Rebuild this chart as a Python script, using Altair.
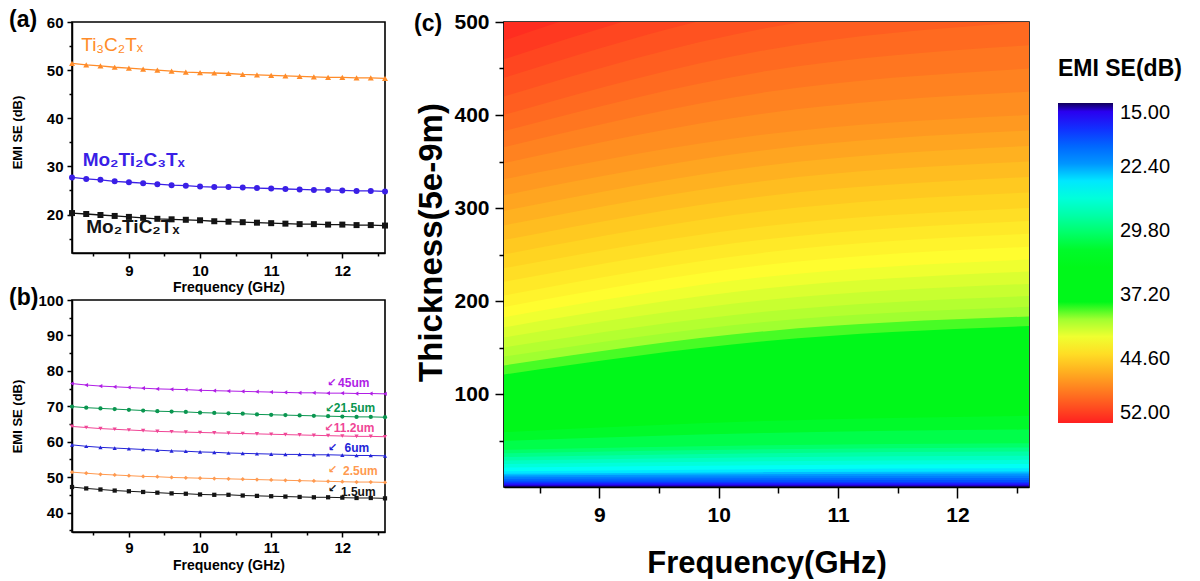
import altair as alt
import pandas as pd

FONT = "Liberation Sans"

# ---------------- data ----------------
FREQ = [8.2, 8.4, 8.6, 8.8, 9.0, 9.2, 9.4, 9.6, 9.8, 10.0, 10.2, 10.4,
        10.6, 10.8, 11.0, 11.2, 11.4, 11.6, 11.8, 12.0, 12.2, 12.4, 12.6]

# panel (a)
A_SERIES = ["Ti₃C₂Tₓ", "Mo₂Ti₂C₃Tₓ", "Mo₂TiC₂Tₓ"]
A_TI3C2TX = [51.4, 51.1, 50.9, 50.6, 50.4, 50.2, 50.0, 49.8, 49.6, 49.5, 49.4, 49.3,
             49.1, 49.0, 48.9, 48.8, 48.7, 48.6, 48.5, 48.5, 48.4, 48.4, 48.3]
A_MO2TI2C3TX = [27.7, 27.4, 27.2, 26.9, 26.7, 26.5, 26.3, 26.1, 26.0, 25.8, 25.7, 25.7,
                25.6, 25.5, 25.4, 25.3, 25.2, 25.1, 25.1, 25.0, 24.9, 24.9, 24.8]
A_MO2TIC2TX = [20.3, 20.1, 19.9, 19.7, 19.5, 19.3, 19.1, 19.0, 18.9, 18.8, 18.6, 18.5,
               18.4, 18.3, 18.2, 18.1, 18.0, 18.0, 17.9, 17.9, 17.8, 17.8, 17.7]
A_LABEL_F = [8.33, 8.35, 8.40]
A_LABEL_SE = [55.2, 31.4, 17.3]

# panel (b)
B_SERIES = ["45um", "21.5um", "11.2um", "6um", "2.5um", "1.5um"]
B_45UM = [76.4, 76.0, 75.7, 75.5, 75.3, 75.1, 74.9, 74.8, 74.7, 74.5, 74.4, 74.3,
          74.2, 74.1, 74.0, 73.9, 73.8, 73.8, 73.7, 73.7, 73.6, 73.6, 73.5]
B_21_5UM = [69.9, 69.6, 69.4, 69.2, 69.0, 68.8, 68.6, 68.5, 68.4, 68.2, 68.1, 68.0,
            67.9, 67.7, 67.6, 67.5, 67.4, 67.3, 67.2, 67.1, 67.0, 67.0, 66.9]
B_11_2UM = [64.3, 64.0, 63.7, 63.5, 63.3, 63.1, 62.9, 62.8, 62.7, 62.6, 62.5, 62.4,
            62.3, 62.2, 62.1, 62.0, 61.9, 61.8, 61.7, 61.6, 61.5, 61.5, 61.4]
B_6UM = [59.1, 58.7, 58.4, 58.2, 58.0, 57.8, 57.6, 57.4, 57.3, 57.1, 57.0, 56.8,
         56.7, 56.6, 56.5, 56.4, 56.4, 56.3, 56.3, 56.2, 56.1, 56.1, 56.0]
B_2_5UM = [51.4, 51.1, 50.8, 50.6, 50.4, 50.2, 50.1, 49.9, 49.8, 49.7, 49.6, 49.5,
           49.4, 49.3, 49.2, 49.1, 49.0, 48.9, 48.8, 48.7, 48.6, 48.6, 48.5]
B_1_5UM = [47.2, 46.8, 46.5, 46.2, 46.0, 45.8, 45.6, 45.4, 45.3, 45.1, 45.0, 45.0,
           44.8, 44.7, 44.6, 44.5, 44.4, 44.3, 44.3, 44.2, 44.1, 44.1, 44.0]
B_LABEL_F = [11.94, 11.88, 11.88, 12.03, 12.01, 11.98]
B_LABEL_SE = [76.7, 69.5, 63.9, 58.3, 51.8, 45.8]
B_ARROW_F = [11.85, 11.82, 11.81, 11.86, 11.86, 11.86]
B_ARROW_SE = [76.7, 69.3, 63.9, 58.3, 52.0, 46.7]

# panel (c): iso-SE contour lines (thickness reached at 8.2 / 10.4 / 12.6 GHz)
C_FREQ = [8.2, 10.4, 12.6]
C_LEVELS = [15, 16, 17, 18, 19, 20, 21, 22, 23, 24, 25, 26, 27, 28, 29, 30, 31, 32, 33,
            39.5, 40, 40.5, 41, 41.5, 42, 42.5, 43, 43.5, 44, 44.5, 45, 45.5, 46, 46.5,
            47, 47.5, 48, 48.5, 49, 49.5, 50, 50.5, 51, 51.5, 52]
C_T_8_2 = [0, 1.25, 2.5, 3.75, 5, 6.8, 8.6, 10.5, 12.3, 14.1, 16.9, 20.8, 24.6, 28.5, 32.3,
           36.2, 40, 49.5, 59, 121, 130.7, 140.3, 150, 160.9, 171.7, 182.6, 193.5, 205.9,
           220.6, 235.3, 250, 265.6, 281.3, 296.9, 313.8, 331, 348.3, 365.5, 382.8, 400,
           420, 440, 460, 480, 500]
C_T_10_4 = [0, 1.25, 2.5, 3.75, 5, 7.2, 9.4, 11.6, 13.8, 16.0, 19.2, 23.5, 27.8, 32.1, 36.4,
            40.7, 44.9, 58.1, 71, 157, 167.6, 177.8, 188.7, 201, 213.6, 226, 238.9, 252.3,
            266.4, 280.6, 296.7, 313, 329.4, 345.8, 362.4, 379.3, 402, 424.7, 447.3, 470,
            493.5, 517, 540, 564, 587.5]
C_T_12_6 = [0, 1.25, 2.5, 3.75, 5, 7.4, 9.7, 12.1, 14.5, 16.8, 20.2, 24.7, 29.2, 33.6, 38.1,
            42.6, 47, 61.8, 76.6, 173, 183.4, 193.8, 205.3, 218.4, 231.6, 244.7, 258.3, 272.2,
            286.1, 300, 316.7, 333.3, 350, 366.7, 383.3, 400, 425, 450, 475, 500, 525, 550,
            575, 600, 625]
C_LEGEND_VALUES = [15, 22.4, 29.8, 37.2, 44.6, 52]

# ---------------- styles ----------------
A_COLORS = ["#ff8c2a", "#3a1fe6", "#141414"]
A_SHAPES = ["triangle-up", "circle", "square"]
A_WEIGHTS = ["normal", "bold", "bold"]
B_COLORS = ["#b01ee6", "#0a9650", "#f04696", "#2424d8", "#ff9a50", "#141414"]
B_SHAPES = ["triangle-left", "circle", "triangle-down", "triangle-up", "diamond", "square"]
C_STOPS = [15, 16, 17.5, 19, 22, 24.6, 27.7, 30.8, 32.5, 39.4, 39.6, 42.4, 44.7, 47.4, 50.1, 52]
C_COLORS = ["#10005a", "#2a00f0", "#1a20ff", "#0050ff", "#0095ff", "#00ffff", "#00ffb0",
            "#00ff50", "#00f81a", "#00f81a", "#90ff30", "#ffff30", "#ffd020", "#ff9020",
            "#ff5020", "#ff2020"]

X_TICKS = [8.5, 9, 9.5, 10, 10.5, 11, 11.5, 12, 12.5]
INT_X = "datum.value % 1 == 0 ? format(datum.value, 'd') : ''"
TEN_Y = "datum.value % 10 == 0 ? format(datum.value, 'd') : ''"
HUND_Y = "datum.value % 100 == 0 ? format(datum.value, 'd') : ''"


def letter(txt, dx, dy):
    return alt.Chart(pd.DataFrame({"t": [txt]})).mark_text(
        align="left", baseline="middle", fontSize=23, fontWeight="bold", font=FONT, color="black"
    ).encode(x=alt.value(dx), y=alt.value(dy), text="t:N")


def small_x(label_pad, title_y):
    return alt.X("f:Q", scale=alt.Scale(domain=[8.2, 12.6], nice=False, zero=False),
                 axis=alt.Axis(title="Frequency (GHz)", values=X_TICKS, labelExpr=INT_X,
                               tickSize={"condition": {"test": "datum.value % 1 === 0", "value": 5},
                                         "value": 3},
                               labelPadding=label_pad, labelFontSize=15,
                               titleFontSize=14, titleY=title_y, titleBaseline="middle",
                               labelOverlap=False, labelFlush=False))


def small_y(domain, ticks, title_y):
    return alt.Y("se:Q", scale=alt.Scale(domain=domain, nice=False, zero=False),
                 axis=alt.Axis(title="EMI SE (dB)", values=ticks, labelExpr=TEN_Y,
                               tickSize={"condition": {"test": "datum.value % 10 === 0", "value": 5},
                                         "value": 3},
                               labelPadding=4, labelFontSize=15,
                               titleFontSize=13, titleX=-55, titleY=title_y,
                               titleBaseline="middle", labelOverlap=False, labelFlush=False))


def series_layers(values_list, colors, shapes, xenc, yenc, width, size):
    layers = []
    for vals, col, shp in zip(values_list, colors, shapes):
        df = pd.DataFrame({"f": FREQ, "se": vals})
        base = alt.Chart(df).encode(x=xenc, y=yenc)
        layers.append(base.mark_line(color=col, strokeWidth=width))
        layers.append(base.mark_point(shape=shp, filled=True, size=size, color=col, opacity=1))
    return layers


# ---------------- panel (a) ----------------
xa = small_x(5, 34)
ya = small_y([12, 60], [15, 20, 25, 30, 35, 40, 45, 50, 55, 60], 110)
layers_a = series_layers([A_TI3C2TX, A_MO2TI2C3TX, A_MO2TIC2TX], A_COLORS, A_SHAPES, xa, ya, 1.3, 36)
for name, f, v, col, wt in zip(A_SERIES, A_LABEL_F, A_LABEL_SE, A_COLORS, A_WEIGHTS):
    layers_a.append(
        alt.Chart(pd.DataFrame({"f": [f], "se": [v], "txt": [name]})).mark_text(
            align="left", baseline="middle", fontSize=19, font=FONT, fontWeight=wt, color=col
        ).encode(x=xa, y=ya, text="txt:N")
    )
layers_a.append(letter("(a)", -63, -2))
panel_a = alt.layer(*layers_a).properties(width=313, height=231)

# ---------------- panel (b) ----------------
xb = small_x(3, 33)
yb = small_y([34.5, 100], [35, 40, 45, 50, 55, 60, 65, 70, 75, 80, 85, 90, 95, 100], 116)
layers_b = series_layers([B_45UM, B_21_5UM, B_11_2UM, B_6UM, B_2_5UM, B_1_5UM],
                         B_COLORS, B_SHAPES, xb, yb, 1.0, 18)
for name, f, v, af, av, col in zip(B_SERIES, B_LABEL_F, B_LABEL_SE, B_ARROW_F, B_ARROW_SE, B_COLORS):
    layers_b.append(
        alt.Chart(pd.DataFrame({"f": [f], "se": [v], "txt": [name]})).mark_text(
            align="left", baseline="middle", fontSize=12, font=FONT, fontWeight="bold", color=col
        ).encode(x=xb, y=yb, text="txt:N")
    )
    layers_b.append(
        alt.Chart(pd.DataFrame({"f": [af], "se": [av], "txt": ["↙"]})).mark_text(
            align="center", baseline="middle", fontSize=11, font="DejaVu Sans", fontWeight="bold",
            color=col
        ).encode(x=xb, y=yb, text="txt:N")
    )
layers_b.append(letter("(b)", -63, -2))
panel_b = alt.layer(*layers_b).properties(width=313, height=232)

# ---------------- panel (c) ----------------
rows = []
for i, lev in enumerate(C_LEVELS):
    for f, t in zip(C_FREQ, (C_T_8_2[i], C_T_10_4[i], C_T_12_6[i])):
        rows.append({"level": lev, "band": "b%02d" % i, "f": f, "t": t})
df_c = pd.DataFrame(rows)

# legend shows the low end on top, as in the reference: colour by the negated level
cscale = alt.Scale(domain=[-s for s in reversed(C_STOPS)], range=list(reversed(C_COLORS)),
                   interpolate="rgb", nice=False, zero=False)
legend_c = alt.Legend(
    title="EMI SE(dB)", orient="none", legendX=986, legendY=36, direction="vertical",
    gradientLength=320, gradientThickness=55, gradientStrokeWidth=0,
    values=[-v for v in C_LEGEND_VALUES], labelExpr="format(-datum.value, '.2f')",
    labelOverlap=False,
    labelFont=FONT, labelFontSize=20, labelColor="black", labelOffset=7, labelBaseline="middle",
    titleFont=FONT, titleFontSize=23, titleFontWeight="bold", titleColor="black", titlePadding=22,
    titleLimit=400,
)
area_c = alt.Chart(df_c).transform_calculate(neg_level="-datum.level").mark_area(
    interpolate="monotone", clip=True).encode(
    x=alt.X("f:Q", scale=alt.Scale(domain=[8.2, 12.6], nice=False, zero=False),
            axis=alt.Axis(title="Frequency(GHz)", values=X_TICKS, labelExpr=INT_X,
                          tickSize={"condition": {"test": "datum.value % 1 === 0", "value": 11},
                                    "value": 6},
                          labelPadding=6, labelFontSize=21, titleFontSize=31, titleY=76,
                          titleBaseline="middle", labelOverlap=False, labelFlush=False)),
    y=alt.Y("t:Q", stack=None, scale=alt.Scale(domain=[0, 500], nice=False, zero=False),
            axis=alt.Axis(title="Thickness(5e-9m)", values=list(range(50, 501, 50)), labelExpr=HUND_Y,
                          tickSize={"condition": {"test": "datum.value % 100 === 0", "value": 9},
                                    "value": 5},
                          labelPadding=6, labelFontSize=21, titleFontSize=33,
                          titleX=-73, titleY=220, titleBaseline="middle", labelOverlap=False,
                          labelFlush=False)),
    y2=alt.datum(500),
    color=alt.Color("neg_level:Q", scale=cscale, legend=legend_c),
    detail="band:N",
)
panel_c = alt.layer(area_c, letter("(c)", -90, 2)).properties(width=525, height=465)

left = alt.vconcat(panel_a, panel_b, spacing=47, bounds="flush")
chart = alt.hconcat(left, panel_c, spacing=432, bounds="flush").properties(
    padding={"left": 0, "top": 0, "right": 0, "bottom": 0}
).configure_view(stroke="black", strokeWidth=1.6).configure_axis(
    labelFont=FONT, titleFont=FONT, labelFontWeight="bold", titleFontWeight="bold",
    labelColor="black", titleColor="black", domainColor="black", tickColor="black",
    domainWidth=1.5, tickWidth=1.5, grid=False
)

chart.save("out.html", embed_options={"renderer": "svg", "actions": False})
